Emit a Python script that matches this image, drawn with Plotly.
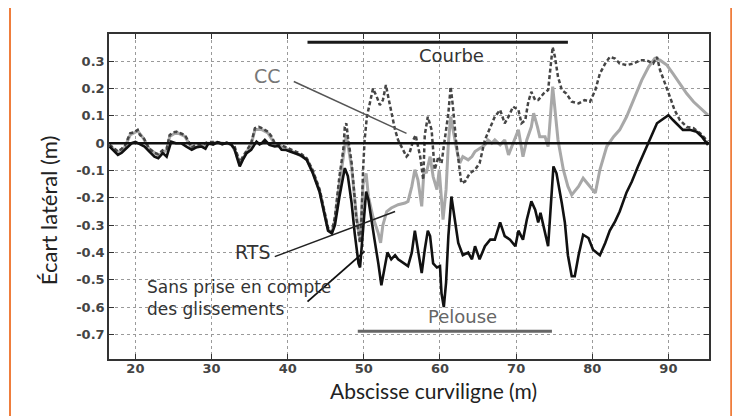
import plotly.graph_objects as go

# ---------------- data ----------------
sans_x = [16.6, 17.2, 17.7, 18.2, 18.6, 19.0, 19.5, 20.0, 20.6, 21.2, 21.8, 22.5, 23.0, 23.6, 24.1, 24.7,
          25.3, 26.0, 26.7, 27.4, 28.0, 28.7, 29.2, 29.6, 30.2, 30.8, 31.4, 32.0, 32.6, 33.0, 33.3, 33.7,
          34.1, 34.6, 35.2, 35.9, 36.3, 36.6, 37.0, 37.6, 38.3, 38.8, 39.2, 39.8, 40.3, 40.9, 41.6, 42.0,
          42.5, 43.3, 44.2, 44.9, 45.3, 45.8, 46.2, 46.8, 47.5, 47.9, 48.4, 48.8, 49.3, 49.5, 49.9, 50.3,
          50.6, 51.0, 51.4, 51.9, 52.3, 52.7, 53.1, 53.6, 54.1, 54.5, 55.2, 55.8, 56.3, 56.7, 57.1, 57.6,
          58.0, 58.4, 58.7, 59.1, 59.6, 60.0, 60.2, 60.5, 60.8, 61.1, 61.5, 61.9, 62.4, 63.0, 63.7, 64.2,
          64.6, 65.2, 65.9, 66.6, 67.2, 67.9, 68.5, 69.2, 69.9, 70.3, 70.9, 71.4, 72.0, 72.5, 72.9, 73.2,
          73.7, 74.2, 74.9, 75.3, 76.0, 76.4, 76.8, 77.3, 77.7, 78.2, 78.8, 79.5, 80.1, 81.0, 81.7, 82.3,
          83.0, 83.6, 84.5, 85.2, 86.0, 86.9, 87.6, 88.5, 89.1, 90.0, 90.6, 91.3, 91.9, 92.8, 93.7, 94.4,
          95.2]
sans_y = [-0.012, -0.03, -0.043, -0.035, -0.024, -0.01, 0.0, 0.005, -0.005, -0.012, -0.03, -0.049, -0.055,
          -0.036, -0.049, 0.006, 0.0, 0.0, -0.012, -0.024, -0.015, -0.012, -0.02, 0.0, -0.005, 0.004, -0.004,
          0.002, -0.006, -0.02, -0.049, -0.085, -0.061, -0.036, -0.024, 0.006, -0.004, 0.0, 0.012, -0.006,
          -0.012, -0.01, -0.024, -0.025, -0.03, -0.036, -0.043, -0.05, -0.061, -0.11, -0.18, -0.27, -0.32,
          -0.33, -0.30, -0.195, -0.091, -0.12, -0.22, -0.33, -0.44, -0.455, -0.32, -0.177, -0.207, -0.29,
          -0.353, -0.44, -0.52, -0.46, -0.40, -0.425, -0.41, -0.425, -0.44, -0.45, -0.40, -0.32, -0.39,
          -0.475, -0.39, -0.32, -0.34, -0.44, -0.455, -0.45, -0.55, -0.60, -0.51, -0.34, -0.195, -0.27,
          -0.365, -0.41, -0.40, -0.425, -0.377, -0.425, -0.377, -0.353, -0.353, -0.29, -0.34, -0.353,
          -0.377, -0.32, -0.353, -0.28, -0.213, -0.243, -0.29, -0.255, -0.32, -0.377, -0.085, -0.11, -0.22,
          -0.29, -0.41, -0.487, -0.487, -0.41, -0.335, -0.347, -0.39, -0.41, -0.365, -0.32, -0.286, -0.25,
          -0.18, -0.14, -0.085, -0.03, 0.012, 0.073, 0.085, 0.103, 0.085, 0.067, 0.049, 0.049, 0.042,
          0.024, -0.006]

cc_x = [16.6, 17.2, 17.7, 18.2, 18.6, 19.3, 19.8, 20.3, 20.6, 21.0, 21.4, 21.8, 22.5, 23.0, 23.6, 24.1,
        24.5, 25.0, 25.4, 26.0, 26.5, 27.0, 27.4, 28.0, 28.7, 29.6, 30.5, 31.5, 32.6, 33.0, 33.3, 33.7,
        34.1, 34.6, 35.2, 35.7, 36.2, 36.6, 37.0, 37.4, 37.9, 38.3, 39.0, 39.8, 40.5, 41.2, 41.8, 42.5,
        43.3, 44.2, 44.9, 45.3, 45.8, 46.2, 46.8, 47.3, 47.5, 47.7, 47.9, 48.4, 48.7, 49.0, 49.5, 49.7,
        49.9, 50.1, 50.4, 50.8, 51.2, 51.7, 52.1, 52.5, 52.9, 53.2, 53.6, 54.1, 54.5, 55.0, 55.6, 56.0,
        56.5, 56.8, 57.1, 57.4, 57.8, 58.0, 58.4, 58.9, 59.3, 59.8, 60.2, 60.6, 61.1, 61.4, 61.7, 62.1,
        62.4, 62.8, 63.3, 63.9, 64.6, 65.2, 65.9, 66.6, 67.2, 67.9, 68.5, 69.0, 69.6, 70.3, 70.7, 71.2,
        71.6, 72.0, 72.5, 72.9, 73.6, 74.2, 74.8, 75.1, 75.5, 76.0, 76.6, 77.3, 78.2, 79.0, 79.7, 80.4,
        81.0, 81.7, 82.3, 83.0, 83.6, 84.5, 85.4, 86.3, 87.1, 88.0, 88.5, 88.9, 89.6, 90.2, 90.8, 91.5,
        92.4, 93.3, 94.2, 95.2]
cc_y = [-0.005, -0.02, -0.03, -0.02, -0.01, 0.036, 0.04, 0.049, 0.03, 0.024, 0.0, -0.02, -0.035, -0.04,
        -0.025, -0.02, 0.03, 0.04, 0.042, 0.035, 0.03, 0.005, -0.015, -0.005, -0.005, 0.005, 0.005, 0.0,
        0.0, -0.01, -0.035, -0.07, -0.05, -0.025, 0.0, 0.055, 0.06, 0.055, 0.05, 0.042, 0.024, 0.0, -0.005,
        -0.015, -0.025, -0.035, -0.04, -0.055, -0.1, -0.17, -0.26, -0.31, -0.325, -0.27, -0.12, -0.024,
        0.06, 0.073, 0.024, -0.073, -0.17, -0.27, -0.365, -0.27, -0.097, 0.012, 0.097, 0.146, 0.2, 0.17,
        0.14, 0.158, 0.213, 0.17, 0.11, 0.049, 0.012, -0.018, -0.049, -0.036, 0.012, 0.03, -0.012, -0.049,
        -0.134, 0.03, 0.097, 0.049, -0.097, -0.049, -0.073, 0.012, 0.11, 0.207, 0.134, 0.012, -0.061,
        -0.146, -0.14, -0.11, -0.097, -0.073, 0.012, 0.06, 0.097, 0.122, 0.073, 0.097, 0.134, 0.122, 0.073,
        0.085, 0.152, 0.188, 0.158, 0.158, 0.182, 0.195, 0.352, 0.316, 0.243, 0.195, 0.182, 0.152, 0.146,
        0.158, 0.152, 0.195, 0.255, 0.292, 0.316, 0.31, 0.292, 0.286, 0.292, 0.304, 0.304, 0.292, 0.316,
        0.268, 0.219, 0.17, 0.122, 0.085, 0.06, 0.055, 0.036, 0.006]

rts_x = [16.6, 17.7, 18.6, 19.3, 20.3, 21.0, 21.8, 23.0, 24.1, 24.5, 25.4, 26.5, 27.4, 28.7, 30.5, 32.6,
         33.3, 33.7, 34.6, 35.2, 35.7, 36.6, 37.4, 38.3, 39.8, 41.2, 42.5, 43.3, 44.2, 44.9, 45.3, 45.8,
         46.2, 46.8, 47.3, 47.7, 48.4, 49.0, 49.5, 49.9, 50.3, 50.6, 51.2, 51.9, 52.2, 52.5, 53.0, 53.6,
         54.5, 55.4, 55.8, 56.3, 56.7, 57.1, 57.6, 57.9, 58.2, 58.7, 59.1, 59.6, 59.9, 60.2, 60.4, 60.8,
         61.1, 61.4, 61.7, 62.2, 62.6, 63.0, 63.7, 64.2, 64.6, 65.2, 65.9, 66.3, 66.8, 67.2, 67.9, 68.5,
         69.0, 69.6, 70.3, 70.9, 71.4, 72.0, 72.3, 72.8, 73.1, 73.8, 74.2, 74.8, 75.1, 75.5, 76.2, 76.8,
         77.3, 78.2, 78.8, 79.5, 80.4, 81.0, 81.9, 82.8, 83.6, 84.5, 85.4, 86.5, 87.4, 88.2, 88.9, 89.8,
         90.6, 91.5, 92.4, 93.3, 94.4, 95.2]
rts_y = [-0.008, -0.035, -0.015, 0.03, 0.045, 0.02, -0.02, -0.045, -0.025, 0.025, 0.04, 0.025, -0.018,
         -0.008, 0.003, -0.003, -0.04, -0.075, -0.03, -0.005, 0.05, 0.05, 0.038, -0.003, -0.02, -0.038,
         -0.058, -0.105, -0.175, -0.265, -0.315, -0.328, -0.28, -0.15, -0.05, 0.03, -0.09, -0.26, -0.36,
         -0.15, -0.11, -0.195, -0.27, -0.33, -0.365, -0.30, -0.25, -0.237, -0.225, -0.219, -0.213, -0.158,
         -0.097, -0.134, -0.231, -0.097, -0.11, -0.049, -0.122, -0.17, -0.097, -0.219, -0.28, -0.17, 0.0,
         0.097, 0.049, -0.024, -0.073, -0.049, -0.061, -0.049, -0.03, -0.018, -0.006, 0.012, 0.0, 0.012,
         -0.006, 0.012, -0.043, 0.0, 0.049, -0.049, 0.012, 0.06, 0.11, 0.06, 0.024, 0.024, -0.012, 0.207,
         0.122, 0.012, -0.097, -0.158, -0.189, -0.158, -0.128, -0.152, -0.182, -0.097, -0.012, 0.024,
         0.049, 0.097, 0.158, 0.231, 0.28, 0.31, 0.304, 0.286, 0.255, 0.219, 0.182, 0.152, 0.122, 0.103]

x_ticks = [20, 30, 40, 50, 60, 70, 80, 90]
y_ticks = [0.3, 0.2, 0.1, 0, -0.1, -0.2, -0.3, -0.4, -0.5, -0.6, -0.7]
y_ticktext = ["0.3", "0.2", "0.1", "0", "-0.1", "-0.2", "-0.3", "-0.4", "-0.5", "-0.6", "-0.7"]

courbe_span = [42.6, 76.8]
courbe_level = 0.37
pelouse_span = [49.2, 74.7]
pelouse_level = -0.688

# ---------------- figure ----------------
fig = go.Figure()
fig.add_trace(go.Scatter(x=rts_x, y=rts_y, mode="lines", name="RTS",
                         line=dict(color="#a8a8a8", width=3)))
fig.add_trace(go.Scatter(x=cc_x, y=cc_y, mode="lines", name="CC",
                         line=dict(color="#454545", width=2.5, dash="4px,2.5px")))
fig.add_trace(go.Scatter(x=sans_x, y=sans_y, mode="lines", name="Sans prise en compte des glissements",
                         line=dict(color="#111111", width=2.6)))

shapes = []
shapes.append(dict(type="line", xref="paper", yref="y", x0=0, x1=1, y0=0, y1=0,
                   line=dict(color="#111", width=2.5)))
shapes.append(dict(type="line", xref="x", yref="y", x0=courbe_span[0], x1=courbe_span[1],
                   y0=courbe_level, y1=courbe_level, line=dict(color="#1a1a1a", width=3)))
shapes.append(dict(type="line", xref="x", yref="y", x0=pelouse_span[0], x1=pelouse_span[1],
                   y0=pelouse_level, y1=pelouse_level, line=dict(color="#666", width=3)))
shapes.append(dict(type="line", xref="x", yref="y", x0=40.8, y0=0.226, x1=55.6, y1=0.036,
                   line=dict(color="#555", width=1.5)))
shapes.append(dict(type="line", xref="x", yref="y", x0=38.3, y0=-0.415, x1=54.1, y1=-0.25,
                   line=dict(color="#222", width=1.5)))
shapes.append(dict(type="line", xref="x", yref="y", x0=42.6, y0=-0.58, x1=50.1, y1=-0.396,
                   line=dict(color="#111", width=1.8)))
oc = "#ef7d3c"
shapes.append(dict(type="line", xref="paper", yref="paper", x0=-0.165, x1=1.037, y0=1.083, y1=1.083,
                   line=dict(color=oc, width=2)))
shapes.append(dict(type="line", xref="paper", yref="paper", x0=-0.165, x1=-0.165, y0=1.083, y1=-0.2,
                   line=dict(color=oc, width=2)))
shapes.append(dict(type="line", xref="paper", yref="paper", x0=1.037, x1=1.037, y0=1.083, y1=-0.2,
                   line=dict(color=oc, width=2)))

annotations = [
    dict(x=61.5, y=0.322, text="Courbe", showarrow=False, font=dict(family="DejaVu Sans", size=18, color="#333")),
    dict(x=62.9, y=-0.634, text="Pelouse", showarrow=False, font=dict(family="DejaVu Sans", size=18, color="#666")),
    dict(x=37.4, y=0.245, text="CC", showarrow=False, font=dict(family="DejaVu Sans", size=19, color="#777")),
    dict(x=35.45, y=-0.398, text="RTS", showarrow=False, font=dict(family="DejaVu Sans", size=19, color="#333")),
    dict(x=21.2, y=-0.568, text="Sans prise en compte<br>des glissements", showarrow=False,
         xanchor="left", yanchor="middle", align="left",
         font=dict(family="DejaVu Sans", size=17, color="#333")),
    dict(xref="paper", yref="paper", x=0.54, y=-0.098, xanchor="center", yanchor="middle",
         text="Abscisse curviligne (m)", showarrow=False,
         font=dict(family="Lato", size=21, color="#222")),
    dict(xref="paper", yref="paper", x=-0.1017, y=0.458, xanchor="center", yanchor="middle",
         text="Écart latéral (m)", showarrow=False,
         textangle=-90, font=dict(family="Lato", size=22, color="#222")),
]

axis_common = dict(showgrid=True, gridcolor="#9a9a9a", gridwidth=1, griddash="dot",
                   showline=True, linecolor="#333", linewidth=1.5, mirror="ticks",
                   ticks="inside", ticklen=5, tickcolor="#333", zeroline=False,
                   tickfont=dict(family="DejaVu Sans", size=13, color="#444", weight="bold"))

# the page body adds an 8px offset, so margins are shifted to keep the plot area in place
fig.update_layout(
    width=740, height=416,
    margin=dict(l=101, r=39, t=26, b=65),
    paper_bgcolor="white", plot_bgcolor="white",
    showlegend=False,
    shapes=shapes, annotations=annotations,
    xaxis=dict(range=[16.53, 95.33], tickvals=x_ticks, ticklabelstandoff=-3, **axis_common),
    yaxis=dict(range=[-0.79, 0.40], tickvals=y_ticks, ticktext=y_ticktext, **axis_common),
)

fig.write_html("out.html")
